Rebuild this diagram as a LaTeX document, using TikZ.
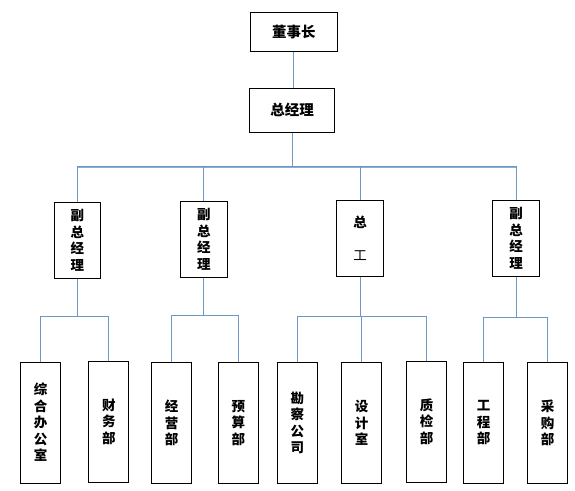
\documentclass[tikz,border=0pt]{standalone}
\usepackage{fontspec}
\newfontfamily\cjk{Noto Sans CJK SC}
\usepackage{tikz}
\definecolor{linkblue}{RGB}{111,151,198}

\begin{document}
\begin{tikzpicture}[x=1pt,y=-1pt,
	box/.style={draw=black,line width=1pt,inner sep=0pt,align=center,font=\cjk\bfseries\fontsize{13.5}{16.5}\selectfont},
	head/.style={box,font=\cjk\bfseries\fontsize{14.5}{16}\selectfont},
	vp/.style={box,minimum width=47pt,minimum height=76pt},
	dept/.style={box,minimum width=40pt,minimum height=121pt},
	link/.style={draw=linkblue,line width=0.9pt}]
	\useasboundingbox (0,0) rectangle (575,490);
	\node[head,minimum width=87pt,minimum height=39pt] (chair) at (293.8,31.8) {董事长};
	\node[head,minimum width=85.4pt,minimum height=44pt] (gm) at (292,110.3) {总经理};
	\node[vp,minimum width=46pt] (vp1) at (77.3,240.2) {副\\总\\经\\理};
	\node[vp] (vp2) at (203.8,239.3) {副\\总\\经\\理};
	\node[vp] (ce) at (360,238.3) {总\\[16.5pt]\mdseries 工};
	\node[vp] (vp3) at (516,238.3) {副\\总\\经\\理};
	\foreach \n/\x/\y/\t in {office/40.5/422.5/{综\\合\\办\\公\\室}, finance/108.8/421.5/{财\\务\\部},
		sales/171.5/423/{经\\营\\部}, budget/238.3/423/{预\\算\\部},
		survey/297.3/423/{勘\\察\\公\\司}, design/361.7/423/{设\\计\\室}, quality/426.5/421.5/{质\\检\\部},
		works/483.5/423/{工\\程\\部}, purchase/547.5/423/{采\\购\\部}}{
		\node[dept] (\n) at (\x,\y) {\t};
	}
	\draw[link] (chair.south) -- (chair.south |- gm.north);
	\draw[link] (gm.south) -- ++(0,34) coordinate (hub);
	\draw[link,line width=1.6pt,draw=linkblue!80] (hub -| vp1.north) -- (hub -| vp3.north);
	\foreach \p in {vp1,vp2,ce,vp3}
		\draw[link] (hub) -| (\p.north);
	\foreach \p/\d/\kids in {vp1/38/{office,finance}, vp2/38/{sales,budget},
		ce/40/{survey,design,quality}, vp3/41/{works,purchase}}{
		\draw[link] (\p.south) -- ++(0,\d) coordinate (bar);
		\foreach \c in \kids
			\draw[link] (bar) -| (\c.north);
	}
\end{tikzpicture}
\end{document}
